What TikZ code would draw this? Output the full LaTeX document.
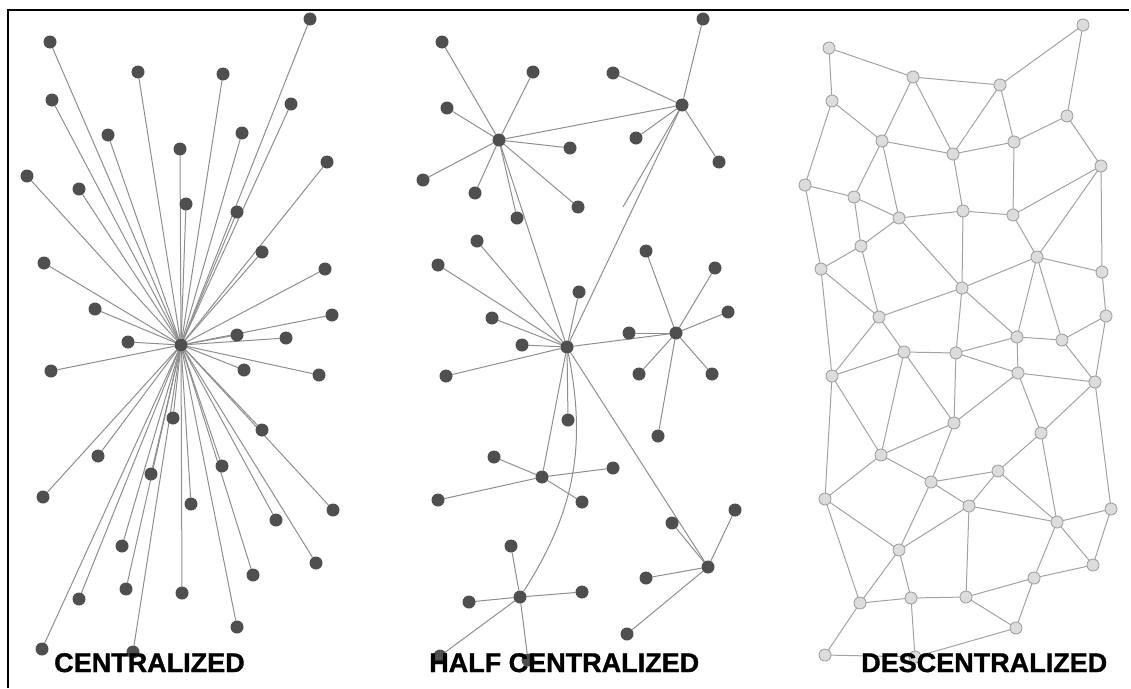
\documentclass[tikz,border=0pt]{standalone}
\usepackage{fontspec}
\newfontfamily\labelfont{Liberation Sans}[FakeBold=1.2]
\usetikzlibrary{backgrounds}
\definecolor{nodegray}{HTML}{4F4F4F}
\definecolor{edgegray}{HTML}{8E8E8E}
\definecolor{meshfill}{HTML}{DCDCDC}
\definecolor{meshline}{HTML}{A2A2A2}
\newcommand\StarLinks[2]{%
  \foreach \leaf in {#2} \draw[link] (#1) -- (\leaf);%
}
\tikzset{%
  dot/.style={circle,fill=nodegray,inner sep=0pt,outer sep=0pt,
    minimum size=13pt},
  ring/.style={circle,fill=meshfill,draw=meshline,line width=0.9pt,
    inner sep=0pt,outer sep=0pt,minimum size=12pt},
  link/.style={draw=edgegray,line width=1pt},
  mesh link/.style={draw=meshline,line width=1pt},
  caption/.style={font=\labelfont\bfseries\fontsize{27}{30}\selectfont,
    inner sep=0pt,anchor=base west}
}

\begin{document}
\begin{tikzpicture}[x=1pt,y=-1pt]

%% page and frame

\useasboundingbox (0,0) rectangle (1131,688);
\draw[line width=2.8pt] (8,688) -- (8,10) -- (1129,10);

%% centralized

\node[dot] (cHub) at (181,345) {};
\foreach \n/\px/\py in {c1/50/42, c2/310/19, c3/138/72, c4/223/74,
    c5/52/100, c6/291/104, c7/108/135, c8/242/133, c9/180/149, c10/27/176,
    c11/79/189, c12/327/162, c13/186/204, c14/237/212, c15/262/252,
    c16/44/263, c17/325/269, c18/95/309, c19/332/315, c20/237/335,
    c21/286/338, c22/128/342, c23/51/371, c24/244/370, c25/319/375,
    c26/173/418, c27/262/430, c28/98/456, c29/151/474, c30/222/466,
    c31/43/497, c32/191/504, c33/333/510, c34/276/520, c35/122/546,
    c36/316/563, c37/253/575, c38/126/589, c39/182/593, c40/79/599,
    c41/237/627, c42/42/649, c43/133/652}
  \node[dot] (\n) at (\px,\py) {};

%% half centralized

\foreach \n/\px/\py in {hA/499/140, hB/682/105, hC/567/347, hD/676/333,
    hE/542/477, hF/520/597, hG/708/567,
    a1/442/42, a2/533/72, a3/447/108, a4/570/148, a5/423/180, a6/475/193,
    a7/578/207, a8/517/218,
    b1/703/19, b2/613/73, b3/636/138, b4/719/162,
    k1/477/241, k2/438/265, k3/579/292, k4/492/318, k5/522/345,
    k6/446/376, k7/568/420,
    d1/646/251, d2/715/268, d3/728/312, d4/629/333, d5/639/374,
    d6/712/374, d7/658/436,
    e1/494/457, e2/613/468, e3/438/500, e4/582/502,
    f1/511/546, f2/469/602, f3/582/592, f4/440/656, f5/528/660,
    g1/672/523, g2/735/510, g3/646/578, g4/627/634}
  \node[dot] (\n) at (\px,\py) {};
\coordinate (bEnd) at (623,207); % loose line end

%% descentralized

\foreach \n/\px/\py in {n1/829/48, n2/1083/25, n3/913/77, n4/1000/85,
    n5/832/101, n6/1067/116, n7/882/141, n8/953/154, n9/1014/142,
    n10/1101/166, n11/805/185, n12/854/197, n13/899/218, n14/963/211,
    n15/1013/215, n16/861/246, n17/1037/257, n18/821/269, n19/1102/272,
    n20/962/288, n21/879/317, n22/1106/316, n23/1017/337, n24/1062/340,
    n25/904/352, n26/956/353, n27/832/376, n28/1018/373, n29/1095/382,
    n30/954/423, n31/1041/433, n32/881/455, n33/998/471, n34/931/482,
    n35/825/499, n36/969/506, n37/1111/509, n38/1057/522, n39/899/550,
    n40/1093/565, n41/1034/578, n42/860/603, n43/911/598, n44/966/597,
    n45/1016/628, n46/825/655, n47/915/657}
  \node[ring] (\n) at (\px,\py) {};

%% connectors behind the dots

\begin{pgfonlayer}{background}
\StarLinks{cHub}{c1,c2,c3,c4,c5,c6,c7,c8,c9,c10,c11,c12,c13,c14,c15,c16,
  c17,c18,c19,c20,c21,c22,c23,c24,c25,c26,c27,c28,c29,c30,c31,c32,c33,
  c34,c35,c36,c37,c38,c39,c40,c41,c42,c43}
\StarLinks{hA}{a1,a2,a3,a4,a5,a6,a7,a8,hB,hC}
\StarLinks{hB}{b1,b2,b3,b4,hC,bEnd}
\StarLinks{hC}{k1,k2,k3,k4,k5,k6,k7,hD,hE,hG}
\StarLinks{hD}{d1,d2,d3,d4,d5,d6,d7}
\StarLinks{hE}{e1,e2,e3,e4}
\StarLinks{hF}{f1,f2,f3,f4,f5}
\StarLinks{hG}{g1,g2,g3,g4}
\draw[link] (hC) to[bend left=22] (hF);
\foreach \a/\b in {n1/n3, n1/n5, n3/n4, n4/n2, n2/n6, n3/n7, n3/n8,
    n4/n8, n4/n9, n5/n7, n5/n11, n6/n9, n6/n10, n7/n8, n8/n9, n7/n12,
    n7/n13, n8/n14, n9/n15, n10/n15, n10/n17, n10/n19, n11/n12, n11/n18,
    n12/n13, n12/n16, n13/n14, n13/n20, n14/n15, n14/n20, n13/n16,
    n16/n18, n16/n21, n15/n17, n17/n19, n17/n20, n17/n23, n17/n24,
    n18/n21, n18/n27, n19/n22, n20/n21, n20/n26, n20/n23, n21/n25,
    n21/n27, n22/n24, n22/n29, n23/n24, n23/n26, n23/n28, n24/n29,
    n25/n26, n25/n27, n25/n32, n25/n30, n26/n30, n26/n28, n28/n29,
    n28/n30, n28/n31, n27/n32, n27/n35, n29/n31, n29/n37, n30/n32,
    n30/n34, n31/n33, n31/n38, n32/n34, n32/n35, n33/n34, n33/n36,
    n33/n38, n34/n36, n34/n39, n35/n39, n35/n42, n36/n38, n36/n39,
    n36/n44, n37/n38, n37/n40, n38/n40, n38/n41, n39/n42, n39/n43,
    n40/n41, n41/n44, n41/n45, n42/n43, n42/n46, n43/n44, n43/n47,
    n44/n45, n45/n47, n46/n47}
  \draw[mesh link] (\a) -- (\b);
\end{pgfonlayer}

%% captions

\node[caption] (capC) at (54,672) {CENTRALIZED};
\node[caption] (capH) at (429,672) {HALF CENTRALIZED};
\node[caption] (capD) at (861,672) {DESCENTRALIZED};

\end{tikzpicture}
\end{document}
